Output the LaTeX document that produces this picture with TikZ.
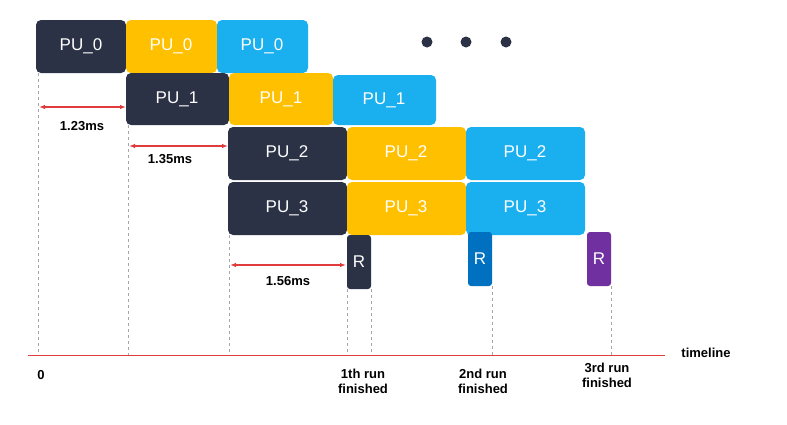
\documentclass[tikz,border=0pt]{standalone}
\usepackage{fontspec}
\setmainfont{Liberation Sans}
\usetikzlibrary{arrows.meta}
\definecolor{dk}{HTML}{2B3245}
\definecolor{yl}{HTML}{FFC000}
\definecolor{bl}{HTML}{1AB0F0}
\definecolor{rb}{HTML}{0070C0}
\definecolor{pp}{HTML}{7030A0}
\definecolor{rl}{HTML}{E03C3C}
\begin{document}
\begin{tikzpicture}[x=1pt,y=-1pt,
 pu/.style={rounded corners=5pt,text=white,font=\fontsize{17}{20}\selectfont},
 dsh/.style={gray!70,dashed,line width=0.6pt},
 meas/.style={rl,line width=1.2pt,{Latex[length=6pt]}-{Latex[length=6pt]}},
 lbl/.style={font=\bfseries\fontsize{13}{15}\selectfont,align=left}]
\useasboundingbox (0,0) rectangle (787,424);
\newcommand\pubox[6]{\fill[pu,#5] (#1,#2) rectangle (#3,#4);
 \node[text=white,font=\fontsize{17}{20}\selectfont] (#6) at ({(#1+#3)/2},{(#2+#4)/2}) {\strut PU\_#6};}
% dashed lines
\draw[dsh] (38,73) -- (38,355);
\draw[dsh] (128,125) -- (128,355);
\draw[dsh] (229,235) -- (229,355);
\draw[dsh] (347,289) -- (347,355);
\draw[dsh] (371,289) -- (371,355);
\draw[dsh] (492,286) -- (492,355);
\draw[dsh] (611,286) -- (611,355);
% boxes
\fill[pu,dk] (36,20) rectangle (126,73); \node[pu] (a0) at (81,46) {PU\_0};
\fill[pu,yl] (126,20) rectangle (217,73); \node[pu] (b0) at (171,46) {PU\_0};
\fill[pu,bl] (217,20) rectangle (308,73); \node[pu] (c0) at (262,46) {PU\_0};
\fill[pu,dk] (126,73) rectangle (229,125); \node[pu] (a1) at (177,99) {PU\_1};
\fill[pu,yl] (229,73) rectangle (333,125); \node[pu] (b1) at (281,99) {PU\_1};
\fill[pu,bl] (333,75) rectangle (436,125); \node[pu] (c1) at (384,100) {PU\_1};
\fill[pu,dk] (228,127) rectangle (347,180); \node[pu] (a2) at (287,153) {PU\_2};
\fill[pu,yl] (347,127) rectangle (466,180); \node[pu] (b2) at (406,153) {PU\_2};
\fill[pu,bl] (466,127) rectangle (585,180); \node[pu] (c2) at (525,153) {PU\_2};
\fill[pu,dk] (228,182) rectangle (347,235); \node[pu] (a3) at (287,208) {PU\_3};
\fill[pu,yl] (347,182) rectangle (466,235); \node[pu] (b3) at (406,208) {PU\_3};
\fill[pu,bl] (466,182) rectangle (585,235); \node[pu] (c3) at (525,208) {PU\_3};
\fill[dk,rounded corners=3pt] (347,235) rectangle (371,289); \node[pu] (r1) at (359,262) {R};
\fill[rb,rounded corners=3pt] (468,232) rectangle (492,286); \node[pu] (r2) at (480,259) {R};
\fill[pp,rounded corners=3pt] (587,232) rectangle (611,286); \node[pu] (r3) at (599,259) {R};
% dots
\foreach \x/\n in {427/d1,466/d2,506/d3} \fill[dk] (\x,42) circle (5.5pt) coordinate (\n);
% measures
\coordinate (m1a) at (39,107); \coordinate (m1b) at (126,107);
\draw[meas] (m1a) -- (m1b);
\node[lbl] (l1) at (82,126) {1.23ms};
\coordinate (m2a) at (129,146); \coordinate (m2b) at (228,146);
\draw[meas] (m2a) -- (m2b);
\node[lbl] (l2) at (170,159) {1.35ms};
\coordinate (m3a) at (230,265); \coordinate (m3b) at (346,265);
\draw[meas] (m3a) -- (m3b);
\node[lbl] (l3) at (288,281) {1.56ms};
% timeline
\coordinate (t0) at (28,355); \coordinate (t1) at (665,355);
\draw[rl,line width=1pt] (t0) -- (t1);
\node[lbl] (tl) at (706,353) {timeline};
\node[lbl] (z) at (41,375) {0};
\node[lbl,align=center] (f1) at (363,381) {1th run\\finished};
\node[lbl,align=center] (f2) at (483,381) {2nd run\\finished};
\node[lbl,align=center] (f3) at (607,375) {3rd run\\finished};
\end{tikzpicture}
\end{document}
